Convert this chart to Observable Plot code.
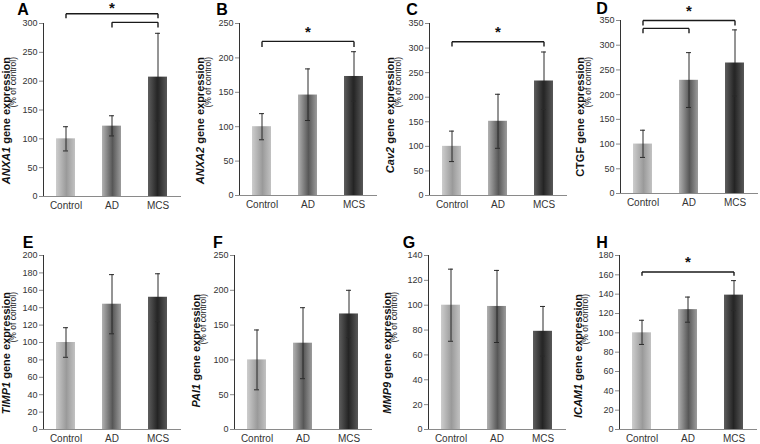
<!DOCTYPE html>
<html><head><meta charset="utf-8">
<script src="https://cdn.jsdelivr.net/npm/d3@7"></script>
<script src="https://cdn.jsdelivr.net/npm/@observablehq/plot@0.6"></script>
<style>
body{margin:0;background:#fff;}
#root{position:relative;width:760px;height:444px;background:#fff;font-family:Arial,"Liberation Sans",sans-serif;}
.panel{position:absolute;width:190px;height:222px;}
.panel svg{overflow:visible;}
g[aria-label^="y-axis"], g[aria-label^="y-axis"] line, g[aria-label^="y-axis"] path{stroke:#8a8a8a;}
.panel svg text{stroke:none;}
</style></head><body>
<svg width="0" height="0" style="position:absolute"><defs>
<linearGradient id="gradControl" x1="0" x2="1" y1="0" y2="0">
<stop offset="0" stop-color="#cdcdcd"/><stop offset="0.55" stop-color="#9a9a9a"/><stop offset="1" stop-color="#c2c2c2"/>
</linearGradient>
<linearGradient id="gradAD" x1="0" x2="1" y1="0" y2="0">
<stop offset="0" stop-color="#b2b2b2"/><stop offset="0.55" stop-color="#575757"/><stop offset="1" stop-color="#9c9c9c"/>
</linearGradient>
<linearGradient id="gradMCS" x1="0" x2="1" y1="0" y2="0">
<stop offset="0" stop-color="#5e5e5e"/><stop offset="0.5" stop-color="#242424"/><stop offset="1" stop-color="#585858"/>
</linearGradient>
</defs></svg>
<div id="root"></div>
<script>
// ---- data ----
const groups = ["Control", "AD", "MCS"];
const letters = ["A", "B", "C", "D", "E", "F", "G", "H"];
const genes = ["ANXA1", "ANXA2", "Cav2", "CTGF", "TIMP1", "PAI1", "MMP9", "ICAM1"];
const geneStyle = ["italic", "italic", "italic", "normal", "italic", "italic", "italic", "italic"];

const meanA = [100, 122, 207], lowA = [79, 105, 131], highA = [121, 140, 283];
const meanB = [100, 146, 173], lowB = [81, 109, 137], highB = [119, 184, 209];
const meanC = [100, 151, 233], lowC = [69, 96, 175], highC = [131, 206, 292];
const meanD = [100, 229, 264], lowD = [73, 174, 197], highD = [128, 285, 331];
const meanE = [100, 144, 152], lowE = [83, 110, 124], highE = [117, 178, 179];
const meanF = [100, 124, 166], lowF = [57, 73, 132], highF = [143, 175, 200];
const meanG = [100, 99, 79], lowG = [71, 70, 59], highG = [129, 128, 99];
const meanH = [100, 124, 139], lowH = [88, 111, 123], highH = [113, 137, 154];

const ticksA = [0, 50, 100, 150, 200, 250, 300];
const ticksB = [0, 50, 100, 150, 200, 250];
const ticksC = [0, 50, 100, 150, 200, 250, 300, 350];
const ticksD = [0, 50, 100, 150, 200, 250, 300, 350];
const ticksE = [0, 20, 40, 60, 80, 100, 120, 140, 160, 180, 200];
const ticksF = [0, 50, 100, 150, 200, 250];
const ticksG = [0, 20, 40, 60, 80, 100, 120, 140];
const ticksH = [0, 20, 40, 60, 80, 100, 120, 140, 160, 180];

// significance brackets: from group, to group, bar level, end level
const sigA = [{from: "Control", to: "MCS", y: 317, end: 309}, {from: "AD", to: "MCS", y: 302, end: 293}];
const sigB = [{from: "Control", to: "MCS", y: 224, end: 216}];
const sigC = [{from: "Control", to: "MCS", y: 313, end: 303}];
const sigD = [{from: "Control", to: "MCS", y: 350, end: 340}, {from: "Control", to: "AD", y: 334, end: 324}];
const sigE = [], sigF = [], sigG = [];
const sigH = [{from: "Control", to: "MCS", y: 163, end: 159}];
const starA = [{at: "AD", y: 326}], starB = [{at: "AD", y: 237}], starC = [{at: "AD", y: 332}], starD = [{at: "AD", y: 368}];
const starE = [], starF = [], starG = [];
const starH = [{at: "AD", y: 173}];

const means = [meanA, meanB, meanC, meanD, meanE, meanF, meanG, meanH];
const lows = [lowA, lowB, lowC, lowD, lowE, lowF, lowG, lowH];
const highs = [highA, highB, highC, highD, highE, highF, highG, highH];
const tickSets = [ticksA, ticksB, ticksC, ticksD, ticksE, ticksF, ticksG, ticksH];
const sigs = [sigA, sigB, sigC, sigD, sigE, sigF, sigG, sigH];
const stars = [starA, starB, starC, starD, starE, starF, starG, starH];

// ---- layout ----
const layout = [
  {left: 0,   top: 0,   ml: 43, mt: 23, mb: 26, lx: 9.5, ly: 57, tx: 23, ty: 15},
  {left: 190, top: 0,   ml: 49, mt: 23, mb: 27, lx: 14,  ly: 57, tx: 32, ty: 15},
  {left: 380, top: 0,   ml: 49, mt: 23, mb: 27, lx: 14,  ly: 57, tx: 32, ty: 15},
  {left: 570, top: 0,   ml: 50, mt: 20, mb: 29, lx: 14,  ly: 57, tx: 32, ty: 14},
  {left: 0,   top: 222, ml: 43, mt: 33, mb: 15, lx: 9.5, ly: 70, tx: 28, ty: 26},
  {left: 190, top: 222, ml: 44, mt: 33, mb: 15, lx: 9.5, ly: 72, tx: 28, ty: 26},
  {left: 380, top: 222, ml: 48, mt: 33, mb: 15, lx: 10.5, ly: 70, tx: 29, ty: 26},
  {left: 570, top: 222, ml: 49, mt: 33, mb: 15, lx: 11.5, ly: 72, tx: 32, ty: 26}
];

const root = document.getElementById("root");
const errColor = "#2a2a2a";

letters.forEach((letter, i) => {
  const L = layout[i];
  const rows = groups.map((g, j) => ({group: g, mean: means[i][j], lo: lows[i][j], hi: highs[i][j]}));
  const sig = sigs[i];
  const ends = sig.flatMap(s => [{x: s.from, y: s.y, end: s.end}, {x: s.to, y: s.y, end: s.end}]);
  const ticks = tickSets[i];
  const plot = Plot.plot({
    width: 190,
    height: 222,
    marginLeft: L.ml,
    marginRight: 190 - L.ml - 138,
    marginTop: L.mt,
    marginBottom: L.mb,
    style: {fontFamily: "Arial, 'Liberation Sans', sans-serif", fontSize: "10px", color: "#333", background: "transparent", overflow: "visible"},
    x: {domain: groups, paddingInner: 0.58, paddingOuter: 0.29, tickSize: 0, tickPadding: 5, label: null},
    y: {domain: [0, ticks[ticks.length - 1]], ticks: ticks, tickSize: 4, tickPadding: 2, line: true, label: null},
    marks: [
      ...groups.map(g => Plot.barY(rows.filter(d => d.group === g), {x: "group", y: "mean", fill: `url(#grad${g})`})),
      Plot.ruleY([0], {stroke: "#8a8a8a", strokeWidth: 1.2}),
      Plot.ruleX(rows, {x: "group", y1: "lo", y2: "hi", stroke: errColor, strokeWidth: 1}),
      Plot.tickY(rows, {x: "group", y: "lo", stroke: errColor, insetLeft: 7, insetRight: 7}),
      Plot.tickY(rows, {x: "group", y: "hi", stroke: errColor, insetLeft: 7, insetRight: 7}),
      Plot.link(sig, {x1: "from", x2: "to", y1: "y", y2: "y", stroke: "#1a1a1a", strokeWidth: 1.4}),
      Plot.link(ends, {x1: "x", x2: "x", y1: "y", y2: "end", stroke: "#1a1a1a", strokeWidth: 1.4}),
      Plot.text(stars[i], {x: "at", y: "y", text: () => "*", fontSize: 15, fontWeight: "bold", fill: "#111"})
    ]
  });
  const svg = d3.select(plot);
  svg.selectAll('g[aria-label^="y-axis"] text').attr("font-size", 9).style("font-size", "9px");
  const lab = svg.append("text")
    .attr("transform", `translate(${L.lx},${L.ly}) rotate(-90)`)
    .attr("text-anchor", "end")
    .attr("font-size", 11)
    .attr("fill", "#111");
  lab.append("tspan").attr("font-weight", "bold").attr("font-style", geneStyle[i]).text(genes[i]);
  lab.append("tspan").attr("font-weight", "bold").text(" gene expression");
  svg.append("text")
    .attr("transform", `translate(${L.lx + 6.5},${L.ly}) rotate(-90)`)
    .attr("text-anchor", "end")
    .attr("font-size", 8.5)
    .attr("fill", "#222")
    .text("(% of control)");
  svg.append("text")
    .attr("x", L.tx).attr("y", L.ty)
    .attr("font-size", 16).attr("font-weight", "bold").attr("fill", "#000")
    .text(letter);
  const div = document.createElement("div");
  div.className = "panel";
  div.style.left = L.left + "px";
  div.style.top = L.top + "px";
  div.appendChild(plot);
  root.appendChild(div);
});
</script>
</body></html>
